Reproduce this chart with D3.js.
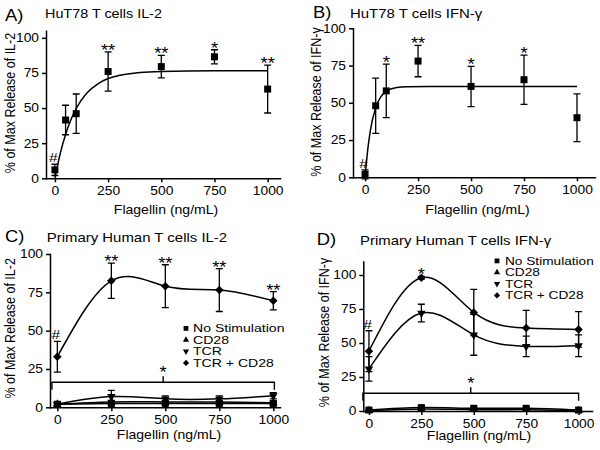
<!DOCTYPE html>
<html><head><meta charset="utf-8">
<script src="https://cdn.jsdelivr.net/npm/d3@7"></script>
<style>
html,body{margin:0;padding:0;background:#fff;}
svg{display:block;}
text{font-family:"Liberation Sans",Arial,sans-serif;fill:#000;}
</style></head><body>
<svg id="chart" width="600" height="450"></svg>
<script>
// ================= DATA =================
const xTickValues = [0, 250, 500, 750, 1000];
const yTickValues = [0, 25, 50, 75, 100];
const xAxisTitle = "Flagellin (ng/mL)";

// Panel A - HuT78 IL-2
const aDose = [0, 50, 100, 250, 500, 750, 1000];
const aMean = [6, 41.5, 46, 76, 79.5, 86.5, 63.5];
const aErr  = [4, 10.5, 14, 14, 8, 5, 17];
const aSig  = ["#", "", "", "**", "**", "*", "**"];
const aFitDose = [0, 25, 50, 75, 100, 150, 200, 250, 300, 400, 500, 750, 1000];
const aFitVal  = [0, 17.7, 31.2, 41.7, 49.7, 60.7, 67.1, 71.0, 73.2, 75.4, 76.1, 76.5, 76.5];

// Panel B - HuT78 IFN-γ
const bDose = [0, 50, 100, 250, 500, 750, 1000];
const bMean = [2, 48, 58, 78, 61, 65.5, 40];
const bErr  = [3, 18.5, 18, 10.5, 13.5, 16.5, 16];
const bSig  = ["#", "", "*", "**", "*", "*", ""];
const bFitDose = [0, 12.5, 25, 50, 75, 100, 150, 200, 300, 500, 1000];
const bFitVal  = [0, 18.5, 31.5, 46.7, 54.1, 57.6, 60.2, 60.8, 61, 61, 61];

// Panels C and D - primary human T cells
const seriesNames = ["No Stimulation", "CD28", "TCR", "TCR + CD28"];
const seriesShapes = ["square", "triangleUp", "triangleDown", "diamond"];
const pDose = [0, 250, 500, 750, 1000];

const cNoStim   = [2, 2.5, 2.5, 2.5, 2.5];
const cCD28     = [2, 3.5, 3.5, 3.5, 3];
const cTCR      = [2, 7, 5.5, 5.5, 7.5];
const cTCRCD28  = [33, 82.5, 79, 76.5, 69.5];
const cErrNoStim  = [0.8, 0.8, 0.8, 0.8, 0.8];
const cErrCD28    = [0.8, 1, 1, 1, 1];
const cErrTCR     = [1, 4, 2, 2, 2];
const cErrTCRCD28 = [10, 11.5, 14, 14, 6];
const cSig = ["#", "**", "**", "**", "**"];
const cBracket = [-25, 1005, 16.3];   // from dose, to dose, level (%)
const cBracketSig = "*";

const dNoStim   = [0.7, 2.5, 2, 2, 0.7];
const dCD28     = [0.3, 1.5, 1, 1, 0.3];
const dTCR      = [31, 72, 56, 47.5, 48];
const dTCRCD28  = [44, 98, 72.5, 61, 60];
const dErrNoStim  = [0.5, 0.8, 0.8, 0.8, 0.5];
const dErrCD28    = [0.3, 0.5, 0.5, 0.5, 0.3];
const dErrTCR     = [9, 6.5, 15, 7.5, 8];
const dErrTCRCD28 = [15, 1, 17, 13, 13];
const dSig = ["#", "*", "", "", ""];
const dBracket = [-29, 1000, 13];
const dBracketSig = "*";

// ================= LAYOUT =================
const SX = 1.15; // horizontal text stretch of the original figure
const layout = {
  A: {xDomain: [-42, 1058], xRange: [46, 280], yDomain: [0, 105], yRange: [178.3, 30.8],
      letter: [5, 20.7], title: [45, 18.3], titleSize: 12.5, yLab: [15, 103], xLab: [166, 214]},
  B: {xDomain: [-57, 1085], xRange: [353, 595], yDomain: [0, 100], yRange: [177.3, 28.3],
      letter: [313, 18.3], title: [350, 17.5], titleSize: 13, yLab: [320.5, 102], xLab: [477.5, 213.5]},
  C: {xDomain: [-34, 1031], xRange: [50, 280], yDomain: [0, 100], yRange: [407.3, 254],
      letter: [5, 242.3], title: [46.7, 242], titleSize: 13, yLab: [15, 328.3], xLab: [169, 438.5],
      legend: {mx: 186, tx: 193, y0: 332, dy: 11.5, size: 10.2, sx: 1.38}},
  D: {xDomain: [-27, 1064], xRange: [363.3, 592], yDomain: [0, 110], yRange: [411, 261.4],
      letter: [316.7, 245.3], title: [360, 245.3], titleSize: 13, yLab: [329, 332.5], xLab: [479, 440],
      legend: {mx: 497, tx: 505, y0: 264.5, dy: 11.5, size: 10.2, sx: 1.34}}
};

// ================= DRAWING =================
const svg = d3.select("#chart");

function label(g, txt, x, y, size, anchor, rot, sx) {
  return g.append("text")
    .attr("transform", `translate(${x},${y}) scale(${sx || SX},1)` + (rot ? " rotate(-90)" : ""))
    .attr("font-size", size).attr("text-anchor", anchor || "start").text(txt);
}

function marker(g, shape, cx, cy, s) {
  let path, rot = 0;
  if (shape === "square") path = d3.symbol(d3.symbolSquare, s * s)();
  else if (shape === "diamond") { path = d3.symbol(d3.symbolSquare, s * s / 2)(); rot = 45; }
  else { path = d3.symbol(d3.symbolTriangle, Math.sqrt(3) / 4 * s * s)(); if (shape === "triangleDown") rot = 180; }
  g.append("path").attr("d", path)
    .attr("transform", `translate(${cx},${cy}) rotate(${rot})`).attr("fill", "#000");
}

function errBars(g, x, y, dose, mean, err) {
  const cap = 3.5;
  dose.forEach((d, i) => {
    const xx = x(d), yt = y(mean[i] + err[i]), yb = y(mean[i] - err[i]);
    g.append("path")
      .attr("d", `M${xx},${yt}V${yb}M${xx - cap},${yt}H${xx + cap}M${xx - cap},${yb}H${xx + cap}`)
      .attr("stroke", "#000").attr("stroke-width", 1.3).attr("fill", "none");
  });
}

function sigLabels(g, x, y, dose, mean, err, labels) {
  dose.forEach((d, i) => {
    const lab = labels[i];
    if (!lab) return;
    const top = y(mean[i] + err[i]);
    if (lab === "#") label(g, lab, x(d) - 1.5, top - 2, 13.5, "middle");
    else label(g, lab, x(d), top + 4, 16, "middle");
  });
}

function drawPanel(key, letter, title, yTitle, series, sig, bracket, bracketSig, legend) {
  const L = layout[key];
  const g = svg.append("g");
  const x = d3.scaleLinear().domain(L.xDomain).range(L.xRange);
  const y = d3.scaleLinear().domain(L.yDomain).range(L.yRange);

  // axes
  const gx = g.append("g").attr("transform", `translate(0,${L.yRange[0]})`)
    .call(d3.axisBottom(x).tickValues(xTickValues).tickFormat(d3.format("d"))
      .tickSize(4).tickSizeOuter(0).tickPadding(4));
  const gy = g.append("g").attr("transform", `translate(${L.xRange[0]},0)`)
    .call(d3.axisLeft(y).tickValues(yTickValues).tickFormat(d3.format("d"))
      .tickSize(4).tickSizeOuter(0).tickPadding(3));
  [gx, gy].forEach(a => {
    a.attr("font-family", null).attr("font-size", 12);
    a.select(".domain").attr("stroke-width", 1.5).attr("stroke-linecap", "square");
    a.selectAll(".tick line").attr("stroke-width", 1.5);
    a.selectAll(".tick text").attr("transform", `scale(${SX},1)`);
  });
  gy.selectAll(".tick text").attr("x", -7 / SX);

  // titles
  label(g, letter, L.letter[0], L.letter[1], 16, "start");
  label(g, title, L.title[0], L.title[1], L.titleSize, "start");
  label(g, yTitle, L.yLab[0], L.yLab[1], 12.5, "middle", true);
  label(g, xAxisTitle, L.xLab[0], L.xLab[1], 12.2, "middle");

  const plot = g.append("g");
  // lines
  series.forEach(s => {
    const pts = s.fit ? s.fit[0].map((d, i) => [d, s.fit[1][i]]) : s.dose.map((d, i) => [d, s.mean[i]]);
    const line = d3.line().x(d => x(d[0])).y(d => y(d[1]))
      .curve(s.fit ? d3.curveMonotoneX : d3.curveNatural);
    plot.append("path").attr("d", line(pts)).attr("fill", "none")
      .attr("stroke", "#000").attr("stroke-width", 1.5);
  });
  // error bars
  series.forEach(s => errBars(plot, x, y, s.dose, s.mean, s.err));
  // markers
  series.forEach(s => s.dose.forEach((d, i) => marker(plot, s.shape, x(d), y(s.mean[i]), s.shape === "square" ? 7 : 8.5)));
  // significance
  sigLabels(plot, x, y, sig.dose, sig.mean, sig.err, sig.labels);

  if (bracket) {
    const x0 = x(bracket[0]), x1 = x(bracket[1]), yb = y(bracket[2]);
    const xm = (x0 + x1) / 2;
    plot.append("path")
      .attr("d", `M${x0},${yb + 7.5}V${yb}H${x1}V${yb + 7.5}M${xm},${yb}V${yb - 6}`)
      .attr("fill", "none").attr("stroke", "#000").attr("stroke-width", 1.4);
    label(plot, bracketSig, xm, yb - 6 + 2, 16, "middle");
  }

  if (legend) {
    const lg = L.legend;
    seriesNames.forEach((n, i) => {
      const by = lg.y0 + i * lg.dy;
      marker(g, seriesShapes[i], lg.mx, by - 3.6, seriesShapes[i] === "square" ? 4.8 : 6.2);
      label(g, n, lg.tx, by, lg.size, "start", false, lg.sx);
    });
  }
}

drawPanel("A", "A)", "HuT78 T cells IL-2", "% of Max Release of IL-2",
  [{dose: aDose, mean: aMean, err: aErr, shape: "square", fit: [aFitDose, aFitVal]}],
  {dose: aDose, mean: aMean, err: aErr, labels: aSig});

drawPanel("B", "B)", "HuT78 T cells IFN-\u03B3", "% of Max Release of IFN-\u03B3",
  [{dose: bDose, mean: bMean, err: bErr, shape: "square", fit: [bFitDose, bFitVal]}],
  {dose: bDose, mean: bMean, err: bErr, labels: bSig});

drawPanel("C", "C)", "Primary Human T cells IL-2", "% of Max Release of IL-2",
  [{dose: pDose, mean: cCD28, err: cErrCD28, shape: "triangleUp"},
   {dose: pDose, mean: cTCR, err: cErrTCR, shape: "triangleDown"},
   {dose: pDose, mean: cNoStim, err: cErrNoStim, shape: "square"},
   {dose: pDose, mean: cTCRCD28, err: cErrTCRCD28, shape: "diamond"}],
  {dose: pDose, mean: cTCRCD28, err: cErrTCRCD28, labels: cSig},
  cBracket, cBracketSig, true);

drawPanel("D", "D)", "Primary Human T cells IFN-\u03B3", "% of Max Release of IFN-\u03B3",
  [{dose: pDose, mean: dCD28, err: dErrCD28, shape: "triangleUp"},
   {dose: pDose, mean: dNoStim, err: dErrNoStim, shape: "square"},
   {dose: pDose, mean: dTCR, err: dErrTCR, shape: "triangleDown"},
   {dose: pDose, mean: dTCRCD28, err: dErrTCRCD28, shape: "diamond"}],
  {dose: pDose, mean: dTCRCD28, err: dErrTCRCD28, labels: dSig},
  dBracket, dBracketSig, true);
</script>
</body></html>
